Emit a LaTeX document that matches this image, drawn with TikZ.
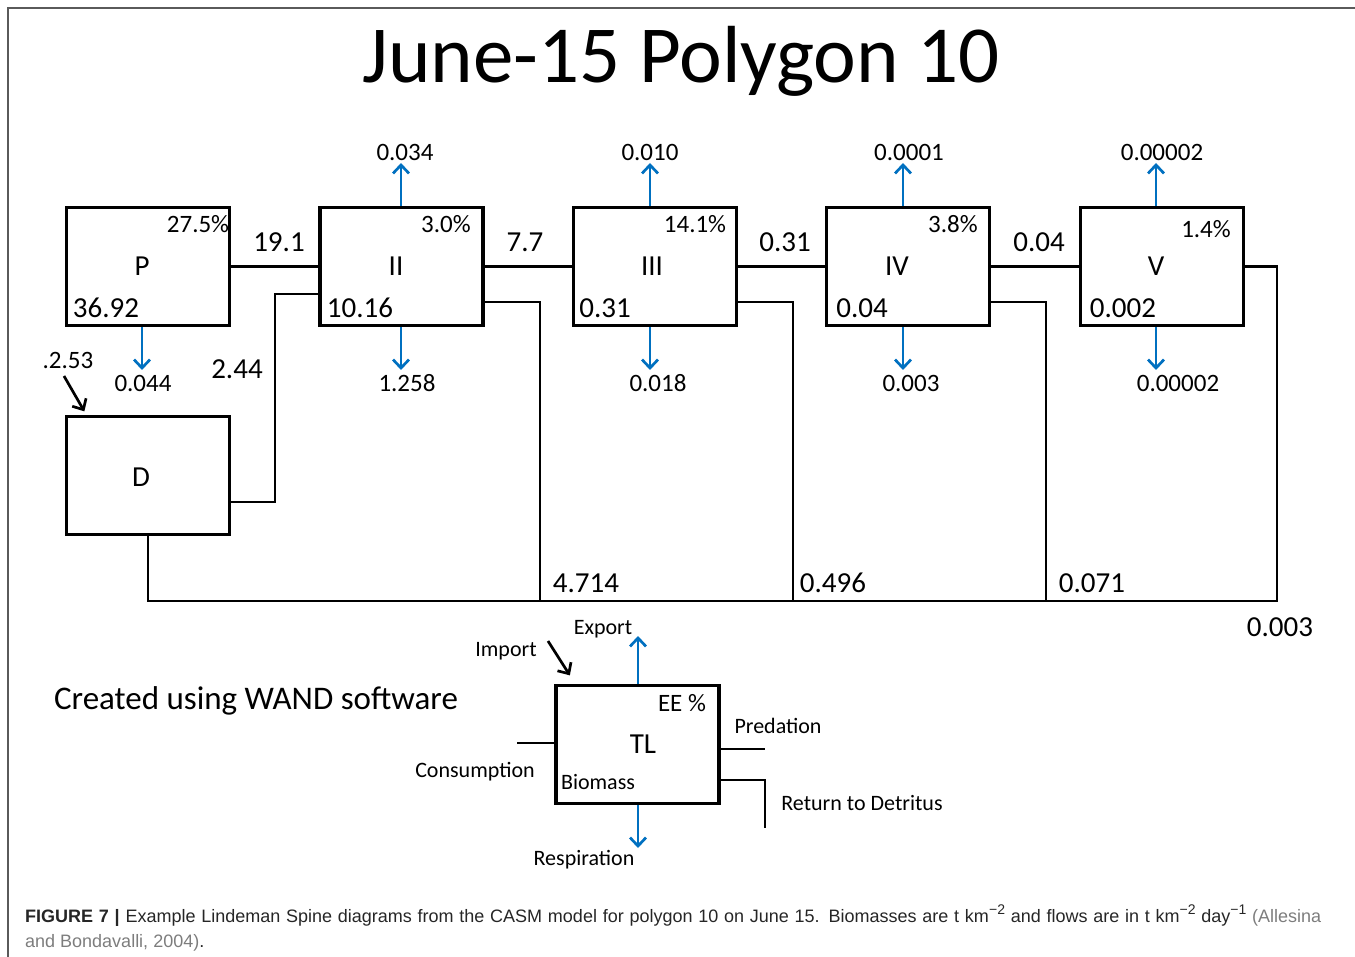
\documentclass[tikz,border=0pt]{standalone}
\usepackage{fontspec}
\setmainfont{Carlito}
\newfontfamily\capfont{Liberation Sans}
\usetikzlibrary{arrows.meta}
\definecolor{flowblue}{RGB}{0,112,192}
\definecolor{citegray}{RGB}{125,125,125}
\definecolor{framegray}{RGB}{90,90,90}
\newcommand{\capsup}[1]{\raisebox{0.42em}{\fontsize{14}{14}\selectfont #1}}

\begin{document}
\begin{tikzpicture}[x=1pt,y=-1pt]
\tikzset{box/.style = {draw,line width=3.3pt,minimum width=163pt,minimum height=118pt,inner sep=0pt}}
\tikzset{link/.style = {line width=2.8pt}}
\tikzset{flow/.style = {draw=flowblue,line width=2.7pt,-{Straight Barb[length=8.5pt,width=16pt]}}}
\tikzset{imp/.style = {line width=2.7pt,-{Straight Barb[length=8.5pt,width=16pt]}}}
\tikzset{big/.style = {inner sep=0pt,font=\fontsize{29}{29}\selectfont}}
\tikzset{small/.style = {inner sep=0pt,font=\fontsize{25}{25}\selectfont}}
\tikzset{legend/.style = {inner sep=0pt,anchor=base,font=\fontsize{22}{22}\selectfont}}
\useasboundingbox (0,0) rectangle (1355,957);
\draw[framegray,line width=1.5pt] (8,957) -- (8,8) -- (1355,8);
% title
\node[inner sep=0pt,anchor=base,font=\fontsize{81}{81}\selectfont] (title) at (681,83) {June-15 Polygon 10};
% boxes
\node[box] (P) at (148,266.5) {};
\node[box] (II) at (401.5,266.5) {};
\node[box] (III) at (655,266.5) {};
\node[box] (IV) at (908,266.5) {};
\node[box] (V) at (1162,266.5) {};
\node[box] (D) at (148,475.5) {};
% box texts
\node[big] (Pn) at (142,266) {P};
\node[big] (IIn) at (396,266) {II};
\node[big] (IIIn) at (652,266) {III};
\node[big] (IVn) at (897,266) {IV};
\node[big] (Vn) at (1156,266) {V};
\node[big] (Dn) at (141,477) {D};
\node[small] (Pee) at (198,224) {27.5\%};
\node[small] (IIee) at (446,224) {3.0\%};
\node[small] (IIIee) at (695,224) {14.1\%};
\node[small] (IVee) at (953,224) {3.8\%};
\node[small] (Vee) at (1206,229) {1.4\%};
\node[big] (Pb) at (106,308) {36.92};
\node[big] (IIb) at (360,308) {10.16};
\node[big] (IIIb) at (605,308) {0.31};
\node[big] (IVb) at (862,308) {0.04};
\node[big] (Vb) at (1123,308) {0.002};
% flows along the spine
\draw[link] (P) -- (II);
\draw[link] (II) -- (III);
\draw[link] (III) -- (IV);
\draw[link] (IV) -- (V);
\node[big] (f1) at (279,242) {19.1};
\node[big] (f2) at (525,242) {7.7};
\node[big] (f3) at (785,242) {0.31};
\node[big] (f4) at (1039,242) {0.04};
% detritus
\coordinate (cD) at (275,294);
\draw[link] ([yshift=-26.5pt]D.east) -| (cD) -- (cD -| II.west);
\node[big] (fD) at (237,369) {2.44};
\coordinate (busR) at (1277,601);
\draw[link] (D.south) |- (busR) |- (V.east);
\coordinate (dII) at (540,601);
\coordinate (dIII) at (793,601);
\coordinate (dIV) at (1046,601);
\draw[link] ([yshift=-35.5pt]II.east) -| (dII);
\draw[link] ([yshift=-35.5pt]III.east) -| (dIII);
\draw[link] ([yshift=-35.5pt]IV.east) -| (dIV);
\node[big] (rII) at (586,583) {4.714};
\node[big] (rIII) at (833,583) {0.496};
\node[big] (rIV) at (1092,583) {0.071};
\node[big] (rV) at (1280,627) {0.003};
% import to D
\coordinate (Dimp) at (64,376);
\draw[imp] (Dimp) -- ([xshift=19.5pt,yshift=3.5pt]D.north west);
\node[small] (Dimpl) at (68,360) {.2.53};
% exports
\coordinate (IIup) at (401,163);
\coordinate (IIIup) at (650,163);
\coordinate (IVup) at (903,163);
\coordinate (Vup) at (1156,163);
\draw[flow] (II.north -| IIup) -- (IIup);
\draw[flow] (III.north -| IIIup) -- (IIIup);
\draw[flow] (IV.north -| IVup) -- (IVup);
\draw[flow] (V.north -| Vup) -- (Vup);
\node[small] (IIupl) at (405,152) {0.034};
\node[small] (IIIupl) at (650,152) {0.010};
\node[small] (IVupl) at (909,152) {0.0001};
\node[small] (Vupl) at (1162,152) {0.00002};
% respiration
\coordinate (Pdn) at (142,370);
\coordinate (IIdn) at (401,370);
\coordinate (IIIdn) at (650,370);
\coordinate (IVdn) at (903,370);
\coordinate (Vdn) at (1156,370);
\draw[flow] (P.south -| Pdn) -- (Pdn);
\draw[flow] (II.south -| IIdn) -- (IIdn);
\draw[flow] (III.south -| IIIdn) -- (IIIdn);
\draw[flow] (IV.south -| IVdn) -- (IVdn);
\draw[flow] (V.south -| Vdn) -- (Vdn);
\node[small] (Pdnl) at (143,383) {0.044};
\node[small] (IIdnl) at (407,383) {1.258};
\node[small] (IIIdnl) at (658,383) {0.018};
\node[small] (IVdnl) at (911,383) {0.003};
\node[small] (Vdnl) at (1178,383) {0.00002};
% legend
\node[inner sep=0pt,anchor=base,font=\fontsize{33}{33}\selectfont] (wand) at (256,709) {Created using WAND software};
\node[box] (TL) at (637.5,744.5) {};
\node[big] (TLn) at (643,744) {TL};
\node[small] (TLee) at (682,703) {EE \%};
\node[legend] (TLb) at (598,789) {Biomass};
\coordinate (exp) at (638,636);
\coordinate (resp) at (638,848);
\draw[flow] (TL.north -| exp) -- (exp);
\draw[flow] (TL.south -| resp) -- (resp);
\coordinate (imp) at (548,641);
\draw[imp] (imp) -- ([xshift=15.5pt,yshift=8.5pt]TL.north west);
\coordinate (cons) at (517,743);
\draw[link] (cons) -- (cons -| TL.west);
\coordinate (pred) at (765,749);
\draw[link] (pred -| TL.east) -- (pred);
\coordinate (ret) at (765,828);
\draw[link] ([yshift=-35.5pt]TL.east) -| (ret);
\node[legend] (expl) at (603,634) {Export};
\node[legend] (impl) at (506,656) {Import};
\node[legend] (respl) at (584,865) {Respiration};
\node[legend] (consl) at (475,777) {Consumption};
\node[legend] (predl) at (778,733) {Predation};
\node[legend] (retl) at (862,810) {Return to Detritus};
% caption
\node[inner sep=0pt,anchor=base west,text=black!85,font=\capfont\fontsize{18}{18}\selectfont] (cap1) at (25,922)
  {\makebox[1296pt][s]{\textbf{FIGURE 7 |} Example Lindeman Spine diagrams from the CASM model for polygon 10 on June 15. Biomasses are t km\capsup{−2} and flows are in t km\capsup{−2} day\capsup{−1} \textcolor{citegray}{(Allesina}}};
\node[inner sep=0pt,anchor=base west,text=black!85,font=\capfont\fontsize{18}{18}\selectfont] (cap2) at (25,947)
  {\textcolor{citegray}{and Bondavalli, 2004)}.};
\end{tikzpicture}
\end{document}
